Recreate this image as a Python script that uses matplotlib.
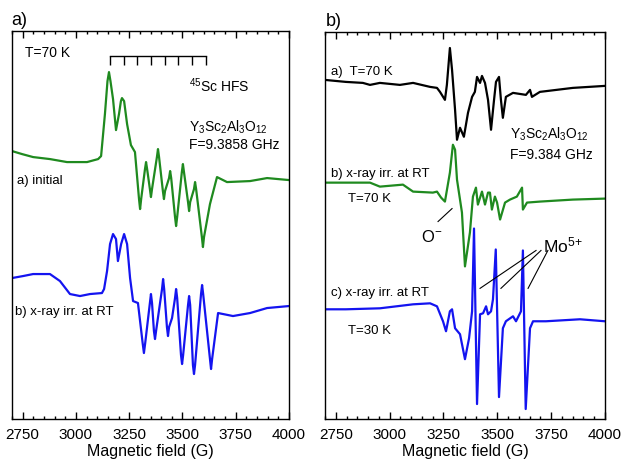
import matplotlib
matplotlib.use("Agg")
import matplotlib.pyplot as plt
from matplotlib.ticker import MultipleLocator

plt.rcParams['font.family'] = ['Liberation Sans', 'DejaVu Sans']
plt.rcParams['mathtext.default'] = 'regular'

# (a) Y3Sc2Al3O12, T = 70 K, F = 9.3858 GHz
a_init_field = [2700, 2747, 2799, 2878, 2958, 3019, 3052, 3104, 3118, 3136, 3148, 3155,
                3162, 3174, 3188, 3202, 3211, 3216, 3226, 3240, 3258, 3277, 3296, 3301,
                3306, 3324, 3329, 3334, 3347, 3352, 3357, 3380, 3385, 3390, 3408, 3413,
                3418, 3437, 3442, 3447, 3465, 3470, 3475, 3497, 3502, 3507, 3526, 3531,
                3536, 3554, 3559, 3564, 3591, 3596, 3601, 3629, 3662, 3709, 3817, 3897,
                4000]
a_init_sig = [268, 265, 262, 260, 257, 257, 257, 260, 263, 305, 338, 347,
              338, 320, 289, 305, 318, 321, 318, 295, 274, 267, 220, 210,
              220, 250, 257, 250, 230, 222, 230, 262, 270, 262, 228, 220,
              228, 241, 248, 241, 202, 193, 202, 247, 255, 247, 217, 208,
              217, 230, 237, 230, 182, 172, 182, 215, 242, 237, 238, 241,
              239]

a_irr_field = [2700, 2752, 2799, 2878, 2925, 2972, 3019, 3066, 3122, 3132, 3146, 3160,
               3174, 3188, 3197, 3212, 3226, 3240, 3254, 3268, 3291, 3313, 3319, 3325,
               3347, 3352, 3357, 3366, 3371, 3376, 3404, 3409, 3414, 3427, 3432, 3437,
               3451, 3465, 3470, 3475, 3493, 3498, 3503, 3526, 3531, 3536, 3549, 3554,
               3559, 3587, 3592, 3597, 3629, 3634, 3639, 3667, 3737, 3817, 3897, 4000]
a_irr_sig = [141, 143, 145, 145, 138, 125, 123, 125, 126, 130, 148, 175,
             185, 180, 158, 175, 185, 175, 141, 118, 116, 76, 66, 76,
             116, 125, 116, 88, 80, 88, 130, 140, 130, 92, 83, 92,
             101, 121, 130, 121, 64, 55, 64, 114, 123, 114, 54, 45,
             54, 125, 134, 125, 60, 50, 60, 106, 103, 106, 111, 113]

hfs_lines = [3160, 3224, 3288, 3352, 3417, 3481, 3545, 3610]

# (b) Y3Sc2Al3O12, F = 9.384 GHz
b_70_field = [2700, 2797, 2876, 2909, 2955, 3048, 3109, 3188, 3220, 3234, 3257, 3266,
              3280, 3290, 3304, 3313, 3327, 3345, 3364, 3383, 3396, 3406, 3420, 3429,
              3443, 3457, 3471, 3485, 3494, 3508, 3517, 3526, 3540, 3573, 3633, 3652,
              3661, 3698, 3851, 4000]
b_70_sig = [340, 338, 337, 335, 337, 335, 337, 333, 332, 328, 320, 335,
            372, 350, 310, 280, 292, 283, 307, 323, 328, 343, 337, 344,
            337, 320, 290, 320, 338, 343, 320, 302, 323, 327, 325, 330,
            323, 328, 332, 334]

b_irr70_field = [2700, 2797, 2909, 2955, 3062, 3109, 3201, 3220, 3239, 3257, 3280, 3294,
                 3304, 3313, 3336, 3350, 3373, 3387, 3401, 3410, 3429, 3443, 3457, 3466,
                 3475, 3489, 3499, 3513, 3536, 3559, 3591, 3615, 3619, 3638, 3698, 3851,
                 4000]
b_irr70_sig = [237, 237, 237, 233, 235, 228, 227, 228, 222, 218, 247, 275,
               270, 240, 207, 153, 187, 223, 232, 215, 228, 215, 227, 227,
               210, 223, 217, 200, 217, 220, 223, 232, 210, 217, 218, 220,
               221]

b_irr30_field = [2700, 2797, 2955, 3109, 3188, 3220, 3248, 3262, 3280, 3290, 3304, 3327,
                 3350, 3369, 3383, 3392, 3406, 3420, 3434, 3448, 3457, 3471, 3480, 3493,
                 3508, 3526, 3540, 3573, 3587, 3610, 3619, 3632, 3652, 3666, 3726, 3884,
                 4000]
b_irr30_sig = [110, 110, 111, 115, 116, 113, 98, 88, 108, 110, 91, 85,
               60, 81, 108, 191, 15, 105, 106, 113, 105, 108, 120, 170,
               22, 91, 98, 103, 98, 108, 169, 10, 91, 98, 98, 100,
               98]

mo_lines = [3420, 3517, 3643]

GREEN = '#1f8a1f'
BLUE = '#1414f0'
LW = 1.6

fig = plt.figure(figsize=(6.33, 4.64), dpi=100)
ax1 = fig.add_axes([0.019, 0.0948, 0.4376, 0.836])
ax2 = fig.add_axes([0.5134, 0.0948, 0.4423, 0.834])

for ax in (ax1, ax2):
    ax.set_xlim(2700, 4000)
    ax.set_ylim(0, 388)
    ax.set_yticks([])
    ax.xaxis.set_major_locator(MultipleLocator(250))
    ax.xaxis.set_minor_locator(MultipleLocator(50))
    ax.tick_params(axis='x', which='both', direction='in', top=True, labelsize=11, pad=6)
    ax.tick_params(axis='x', which='major', length=5, width=1)
    ax.tick_params(axis='x', which='minor', length=2.5, width=1)
    for s in ax.spines.values():
        s.set_linewidth(1.0)
    ax.set_xlabel('Magnetic field (G)', fontsize=11.5, labelpad=1)

# panel a
ax1.plot(a_init_field, a_init_sig, color=GREEN, lw=LW, solid_joinstyle='round')
ax1.plot(a_irr_field, a_irr_sig, color=BLUE, lw=LW, solid_joinstyle='round')
ax1.plot([hfs_lines[0], hfs_lines[-1]], [363, 363], color='k', lw=1)
ax1.vlines(hfs_lines, 354, 363, color='k', lw=1)

ax1.text(2761, 367, 'T=70 K', fontsize=10, va='center')
ax1.text(3531, 328, '$^{45}$Sc HFS', fontsize=10)
ax1.text(3531, 288, 'Y$_3$Sc$_2$Al$_3$O$_{12}$', fontsize=10)
ax1.text(3531, 271, 'F=9.3858 GHz', fontsize=10)
ax1.text(2723, 236, 'a) initial', fontsize=9.5)
ax1.text(2714, 105, 'b) x-ray irr. at RT', fontsize=9.5)

# panel b
ax2.plot(b_70_field, b_70_sig, color='k', lw=LW, solid_joinstyle='round')
ax2.plot(b_irr70_field, b_irr70_sig, color=GREEN, lw=LW, solid_joinstyle='round')
ax2.plot(b_irr30_field, b_irr30_sig, color=BLUE, lw=LW, solid_joinstyle='round')

ax2.text(2728, 346, 'a)  T=70 K', fontsize=9.5)
ax2.text(3559, 282, 'Y$_3$Sc$_2$Al$_3$O$_{12}$', fontsize=10)
ax2.text(3559, 262, 'F=9.384 GHz', fontsize=10)
ax2.text(2728, 244, 'b) x-ray irr. at RT', fontsize=9.5)
ax2.text(2807, 219, 'T=70 K', fontsize=9.5)
ax2.text(2728, 124, 'c) x-ray irr. at RT', fontsize=9.5)
ax2.text(2807, 86, 'T=30 K', fontsize=9.5)

ax2.plot([3225, 3290], [198, 211], color='k', lw=0.8)
ax2.text(3197, 183, 'O$^{-}$', fontsize=12, ha='center', va='center')

for x_end, x_start in zip(mo_lines, [3680, 3703, 3735]):
    ax2.plot([x_start, x_end], [169, 131], color='k', lw=0.8)
ax2.text(3712, 168, 'Mo$^{5{+}}$', fontsize=12.5)

fig.text(0.0174, 0.946, 'a)', fontsize=13)
fig.text(0.515, 0.944, 'b)', fontsize=13)

fig.savefig('out.png', dpi=100)
